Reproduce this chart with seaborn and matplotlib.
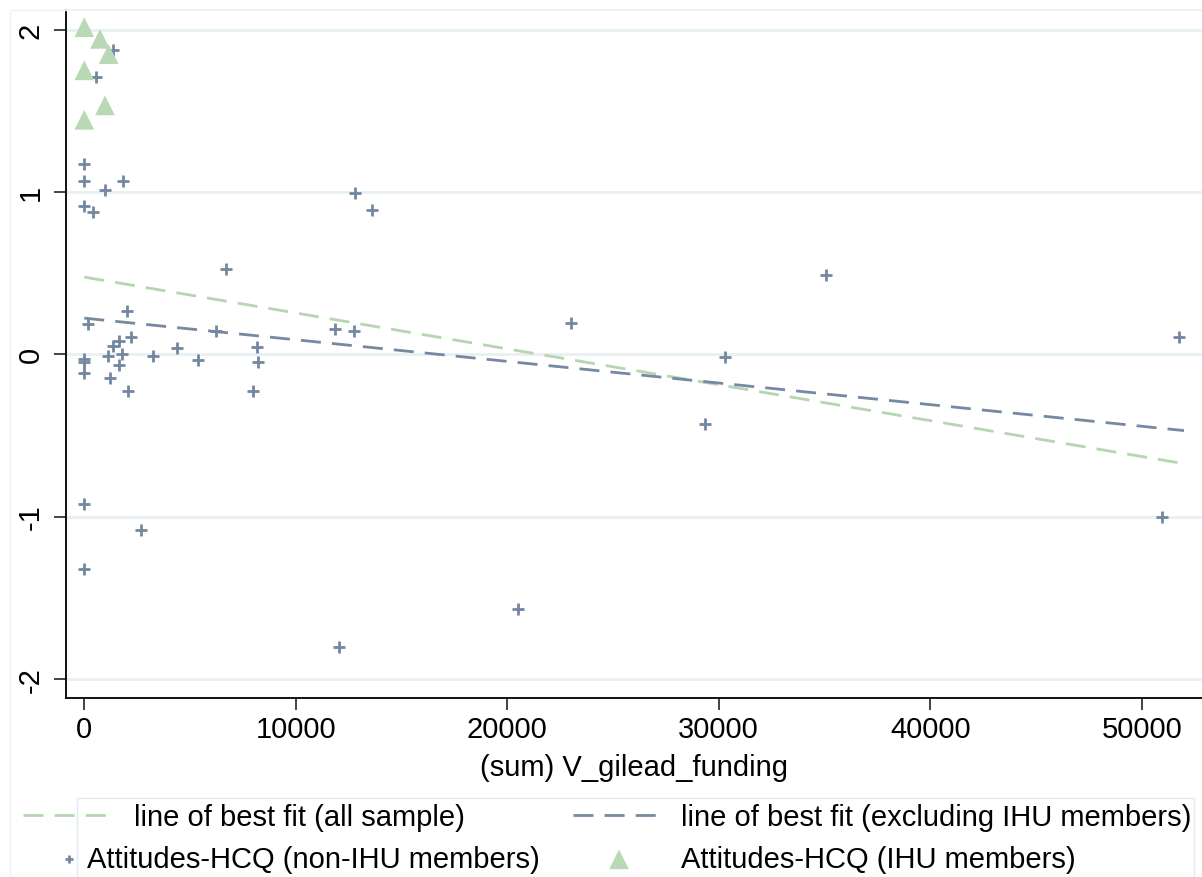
import matplotlib
matplotlib.use("Agg")
import matplotlib.pyplot as plt
import seaborn as sns
import pandas as pd
from matplotlib.patches import Rectangle

# ---------------- data ----------------
non_ihu_funding = [1357, 553, 0, 0, 979, 1830, 0, 411, 6700, 2019, 175, 6228, 1641, 1357,
                   2208, 1121, 1783, 3249, 4383, 5376, 0, 0, 1641, 0, 1215, 2066, 8170, 8217,
                   7980, 12790, 13604, 11855, 12753, 0, 2682, 0, 12045, 20508, 23014, 30296,
                   29350, 35073, 50961, 51765]
non_ihu_attitude = [1.874, 1.707, 1.175, 1.07, 1.014, 1.07, 0.915, 0.878, 0.526, 0.266, 0.186,
                    0.142, 0.080, 0.049, 0.105, -0.012, 0.0, -0.012, 0.037, -0.037, -0.031, -0.05,
                    -0.068, -0.118, -0.148, -0.229, 0.043, -0.049, -0.229, 0.996, 0.891, 0.155,
                    0.142, -0.921, -1.082, -1.323, -1.806, -1.571, 0.192, -0.019, -0.427, 0.489,
                    -1.002, 0.105]
ihu_funding = [0, 742, 1150, 0, 979, 0]
ihu_attitude = [2.016, 1.944, 1.85, 1.75, 1.534, 1.445]

fit_x = [0, 52000]
fit_all_y = [0.476, -0.674]
fit_excl_y = [0.223, -0.470]

x_ticks = [0, 10000, 20000, 30000, 40000, 50000]
y_ticks = [-2, -1, 0, 1, 2]

x_label = "(sum) V_gilead_funding"
lbl_fit_all = "line of best fit (all sample)"
lbl_fit_excl = "line of best fit (excluding IHU members)"
lbl_non_ihu = "Attitudes-HCQ (non-IHU members)"
lbl_ihu = "Attitudes-HCQ (IHU members)"

# ---------------- style ----------------
sns.set_theme(style="white")
plt.rcParams["font.family"] = ["Liberation Sans", "DejaVu Sans"]
plt.rcParams["text.color"] = "black"
plt.rcParams["axes.labelcolor"] = "black"
plt.rcParams["xtick.color"] = "black"
plt.rcParams["ytick.color"] = "black"

GREEN_LINE = "#b5d6b0"
BLUE_LINE = "#7589a2"
CROSS = "#7388a0"
TRI = "#b9d8b5"
GRID = "#e8f0f2"
FS = 21

W, H = 1202, 878
fig = plt.figure(figsize=(W / 100, H / 100), dpi=100)
ax = fig.add_axes([66 / W, 1 - 699 / H, 1 - 66 / W, (699 - 11) / H])

df_fit = pd.DataFrame({"x": fit_x, "all": fit_all_y, "excl": fit_excl_y})
df_non = pd.DataFrame({"x": non_ihu_funding, "y": non_ihu_attitude})
df_ihu = pd.DataFrame({"x": ihu_funding, "y": ihu_attitude})

DASH = (0, (7.2, 4.0))
sns.lineplot(data=df_fit, x="x", y="all", ax=ax, color=GREEN_LINE, lw=2.0,
             linestyle=DASH, label=lbl_fit_all, zorder=3)
sns.lineplot(data=df_fit, x="x", y="excl", ax=ax, color=BLUE_LINE, lw=2.0,
             linestyle=DASH, label=lbl_fit_excl, zorder=3)
sns.scatterplot(data=df_non, x="x", y="y", ax=ax, marker="+", s=85, color=CROSS,
                linewidth=2.0, label=lbl_non_ihu, zorder=4)
sns.scatterplot(data=df_ihu, x="x", y="y", ax=ax, marker="^", s=200, color=TRI,
                edgecolor="none", linewidth=0, label=lbl_ihu, zorder=5)

handles, labels = ax.get_legend_handles_labels()
if ax.get_legend() is not None:
    ax.get_legend().remove()

ax.set_xlim(-865, 52852)
ax.set_ylim(-2.118, 2.122)
ax.set_xticks(x_ticks)
ax.set_yticks(y_ticks)
ax.set_xticklabels([str(v) for v in x_ticks])
ax.set_yticklabels([str(v) for v in y_ticks])

ax.grid(axis="y", color=GRID, lw=2.0, zorder=0)
ax.grid(axis="x", visible=False)
ax.set_axisbelow(True)

for s in ["left", "bottom"]:
    ax.spines[s].set_color("#111111")
    ax.spines[s].set_linewidth(1.4)
ax.spines["top"].set_color(GRID)
ax.spines["top"].set_linewidth(1.2)
ax.spines["right"].set_visible(False)

ax.tick_params(axis="both", which="major", direction="out", length=8.5, width=1.1,
               color="#111111", labelsize=FS, labelcolor="black", bottom=True, left=True)
ax.tick_params(axis="y", labelrotation=90, pad=7)
ax.tick_params(axis="x", pad=4)
for t in ax.get_yticklabels():
    t.set_va("center")

ax.set_xlabel(x_label, fontsize=FS, labelpad=7, color="black")
ax.set_ylabel("")

# faint outer graph-region border
fig.patches.append(Rectangle((10 / W, -0.1), 1.2, 1.1 - 11 / H, transform=fig.transFigure,
                             fill=False, edgecolor="#eef2f4", lw=1.0, zorder=0))
# legend frame
fig.patches.append(Rectangle((77 / W, -0.02), (1194 - 77) / W, 0.02 + 1 - 799 / H,
                             transform=fig.transFigure, fill=False, edgecolor="#e3eaee",
                             lw=1.0, zorder=1))

em = FS * 100 / 72.0  # px per em
row1 = 1 - 818 / H
row2 = 1 - 860 / H
hmap = dict(zip(labels, handles))

def put(label, x_left, y, hl_px, pad_px, mscale=1.0):
    leg = fig.legend(handles=[hmap[label]], labels=[label], loc="center left",
                     bbox_to_anchor=(x_left / W, y), bbox_transform=fig.transFigure,
                     frameon=False, borderpad=0, borderaxespad=0, fontsize=FS,
                     handlelength=hl_px / em, handletextpad=pad_px / em, markerscale=mscale,
                     handleheight=0.7)
    for t in leg.get_texts():
        t.set_color("black")

put(lbl_fit_all, 23, row1, 92, 19)
put(lbl_fit_excl, 573, row1, 92, 16)
put(lbl_non_ihu, 56, row2, 26, 5, mscale=0.7)
put(lbl_ihu, 573, row2, 92, 16)

fig.savefig("out.png", dpi=100)
